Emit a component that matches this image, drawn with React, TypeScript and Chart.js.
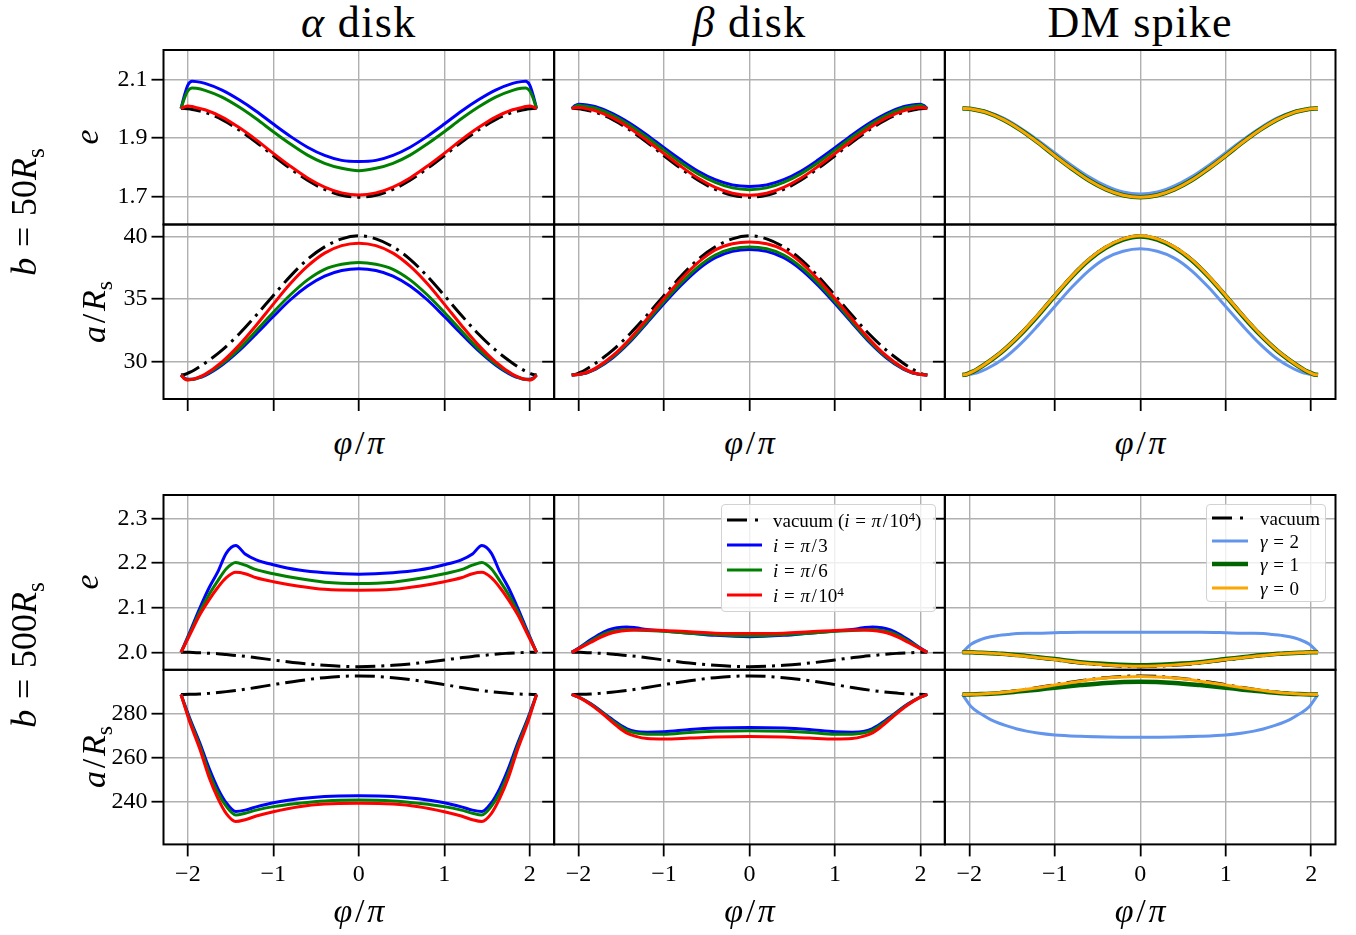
import React, { useEffect, useRef } from "react";
import { Chart, registerables } from "chart.js";

Chart.register(...registerables);

const SERIF = "'Liberation Serif', 'DejaVu Serif', serif";

// ---------- sample positions (φ/π) ----------
const PHI_B50 = [-2.08, -2.04, -2.0, -1.95, -1.9, -1.8, -1.6, -1.4, -1.2, -1.0, -0.8, -0.6, -0.4, -0.2, 0, 0.2, 0.4, 0.6, 0.8, 1.0, 1.2, 1.4, 1.6, 1.8, 1.9, 1.95, 2.0, 2.04, 2.08];
const PHI_B500 = [-2.08, -1.98, -1.86, -1.75, -1.65, -1.55, -1.44, -1.33, -1.2, -1.0, -0.7, -0.4, 0, 0.4, 0.7, 1.0, 1.2, 1.33, 1.44, 1.55, 1.65, 1.75, 1.86, 1.98, 2.08];

// ---------- b = 50 Rs : eccentricity ----------
const E50_VAC = [2.000, 2.000, 1.999, 1.997, 1.994, 1.987, 1.962, 1.927, 1.885, 1.839, 1.795, 1.755, 1.724, 1.704, 1.697, 1.704, 1.724, 1.755, 1.795, 1.839, 1.885, 1.927, 1.962, 1.987, 1.994, 1.997, 1.999, 2.000, 2.000];
const E50_ALPHA_PI3 = [2.000, 2.045, 2.080, 2.093, 2.092, 2.086, 2.063, 2.030, 1.991, 1.947, 1.905, 1.868, 1.840, 1.823, 1.819, 1.823, 1.840, 1.868, 1.905, 1.947, 1.991, 2.030, 2.063, 2.086, 2.092, 2.093, 2.080, 2.045, 2.000];
const E50_ALPHA_PI6 = [2.000, 2.035, 2.060, 2.070, 2.069, 2.062, 2.039, 2.005, 1.965, 1.921, 1.879, 1.841, 1.813, 1.796, 1.788, 1.796, 1.813, 1.841, 1.879, 1.921, 1.965, 2.005, 2.039, 2.062, 2.069, 2.070, 2.060, 2.035, 2.000];
const E50_ALPHA_PI1E4 = [2.000, 2.006, 2.009, 2.007, 2.003, 1.996, 1.971, 1.935, 1.893, 1.847, 1.803, 1.763, 1.732, 1.712, 1.705, 1.712, 1.732, 1.763, 1.803, 1.847, 1.893, 1.935, 1.971, 1.996, 2.003, 2.007, 2.009, 2.006, 2.000];
const E50_BETA_PI3 = [2.000, 2.010, 2.015, 2.014, 2.012, 2.006, 1.983, 1.950, 1.910, 1.866, 1.824, 1.786, 1.757, 1.739, 1.734, 1.739, 1.757, 1.786, 1.824, 1.866, 1.910, 1.950, 1.983, 2.006, 2.012, 2.014, 2.015, 2.010, 2.000];
const E50_BETA_PI6 = [2.000, 2.007, 2.011, 2.009, 2.007, 2.001, 1.977, 1.943, 1.902, 1.858, 1.815, 1.777, 1.748, 1.729, 1.723, 1.729, 1.748, 1.777, 1.815, 1.858, 1.902, 1.943, 1.977, 2.001, 2.007, 2.009, 2.011, 2.007, 2.000];
const E50_BETA_PI1E4 = [2.000, 2.003, 2.004, 2.002, 1.999, 1.992, 1.968, 1.933, 1.891, 1.846, 1.802, 1.762, 1.731, 1.711, 1.704, 1.711, 1.731, 1.762, 1.802, 1.846, 1.891, 1.933, 1.968, 1.992, 1.999, 2.002, 2.004, 2.003, 2.000];
const E50_SPIKE_G2 = [2.000, 2.000, 2.000, 1.998, 1.996, 1.990, 1.967, 1.933, 1.893, 1.849, 1.806, 1.767, 1.736, 1.715, 1.708, 1.715, 1.736, 1.767, 1.806, 1.849, 1.893, 1.933, 1.967, 1.990, 1.996, 1.998, 2.000, 2.000, 2.000];
const E50_SPIKE_G1 = [2.000, 2.000, 1.999, 1.997, 1.994, 1.987, 1.962, 1.927, 1.885, 1.839, 1.795, 1.755, 1.724, 1.704, 1.697, 1.704, 1.724, 1.755, 1.795, 1.839, 1.885, 1.927, 1.962, 1.987, 1.994, 1.997, 1.999, 2.000, 2.000];
const E50_SPIKE_G0 = [2.000, 2.000, 1.999, 1.997, 1.994, 1.987, 1.962, 1.927, 1.885, 1.839, 1.795, 1.755, 1.724, 1.704, 1.697, 1.704, 1.724, 1.755, 1.795, 1.839, 1.885, 1.927, 1.962, 1.987, 1.994, 1.997, 1.999, 2.000, 2.000];

// ---------- b = 50 Rs : semi-major axis a/Rs ----------
const A50_VAC = [28.90, 28.94, 29.05, 29.20, 29.40, 29.85, 30.90, 32.20, 33.70, 35.30, 36.85, 38.20, 39.20, 39.85, 40.10, 39.85, 39.20, 38.20, 36.85, 35.30, 33.70, 32.20, 30.90, 29.85, 29.40, 29.20, 29.05, 28.94, 28.90];
const A50_ALPHA_PI3 = [28.90, 28.65, 28.55, 28.55, 28.62, 28.85, 29.70, 30.85, 32.20, 33.60, 34.95, 36.05, 36.85, 37.30, 37.45, 37.30, 36.85, 36.05, 34.95, 33.60, 32.20, 30.85, 29.70, 28.85, 28.62, 28.55, 28.55, 28.65, 28.90];
const A50_ALPHA_PI6 = [28.90, 28.62, 28.52, 28.55, 28.62, 28.90, 29.80, 31.00, 32.45, 33.95, 35.35, 36.55, 37.40, 37.80, 37.95, 37.80, 37.40, 36.55, 35.35, 33.95, 32.45, 31.00, 29.80, 28.90, 28.62, 28.55, 28.52, 28.62, 28.90];
const A50_ALPHA_PI1E4 = [28.90, 28.60, 28.50, 28.55, 28.65, 28.95, 29.95, 31.30, 32.90, 34.60, 36.25, 37.65, 38.70, 39.30, 39.50, 39.30, 38.70, 37.65, 36.25, 34.60, 32.90, 31.30, 29.95, 28.95, 28.65, 28.55, 28.50, 28.60, 28.90];
const A50_BETA_PI3 = [28.90, 28.92, 28.94, 29.00, 29.08, 29.36, 30.28, 31.55, 33.08, 34.65, 36.12, 37.40, 38.33, 38.84, 39.00, 38.84, 38.33, 37.40, 36.12, 34.65, 33.08, 31.55, 30.28, 29.36, 29.08, 29.00, 28.94, 28.92, 28.90];
const A50_BETA_PI6 = [28.90, 28.92, 28.95, 29.02, 29.10, 29.40, 30.35, 31.65, 33.20, 34.80, 36.30, 37.60, 38.55, 39.05, 39.20, 39.05, 38.55, 37.60, 36.30, 34.80, 33.20, 31.65, 30.35, 29.40, 29.10, 29.02, 28.95, 28.92, 28.90];
const A50_BETA_PI1E4 = [28.90, 28.92, 28.95, 29.02, 29.12, 29.45, 30.45, 31.80, 33.40, 35.05, 36.60, 37.95, 38.95, 39.45, 39.60, 39.45, 38.95, 37.95, 36.60, 35.05, 33.40, 31.80, 30.45, 29.45, 29.12, 29.02, 28.95, 28.92, 28.90];
const A50_SPIKE_G2 = [28.90, 28.92, 28.95, 29.02, 29.10, 29.38, 30.20, 31.40, 32.85, 34.40, 35.95, 37.30, 38.30, 38.85, 39.05, 38.85, 38.30, 37.30, 35.95, 34.40, 32.85, 31.40, 30.20, 29.38, 29.10, 29.02, 28.95, 28.92, 28.90];
const A50_SPIKE_G1 = [28.90, 28.94, 29.05, 29.19, 29.39, 29.83, 30.87, 32.16, 33.65, 35.25, 36.80, 38.14, 39.14, 39.79, 40.04, 39.79, 39.14, 38.14, 36.80, 35.25, 33.65, 32.16, 30.87, 29.83, 29.39, 29.19, 29.05, 28.94, 28.90];
const A50_SPIKE_G0 = [28.90, 28.94, 29.05, 29.20, 29.40, 29.85, 30.90, 32.20, 33.70, 35.30, 36.85, 38.20, 39.20, 39.85, 40.10, 39.85, 39.20, 38.20, 36.85, 35.30, 33.70, 32.20, 30.90, 29.85, 29.40, 29.20, 29.05, 28.94, 28.90];

// ---------- b = 500 Rs : eccentricity ----------
const E500_VAC = [2.000, 2.000, 1.999, 1.998, 1.997, 1.995, 1.993, 1.991, 1.988, 1.983, 1.976, 1.971, 1.968, 1.971, 1.976, 1.983, 1.988, 1.991, 1.993, 1.995, 1.997, 1.998, 1.999, 2.000, 2.000];
const E500_ALPHA_PI3 = [2.000, 2.044, 2.099, 2.145, 2.180, 2.222, 2.239, 2.220, 2.207, 2.196, 2.184, 2.178, 2.175, 2.178, 2.184, 2.196, 2.207, 2.220, 2.239, 2.222, 2.180, 2.145, 2.099, 2.044, 2.000];
const E500_ALPHA_PI6 = [2.000, 2.041, 2.091, 2.130, 2.160, 2.187, 2.201, 2.195, 2.185, 2.176, 2.165, 2.157, 2.154, 2.157, 2.165, 2.176, 2.185, 2.195, 2.201, 2.187, 2.160, 2.130, 2.091, 2.041, 2.000];
const E500_ALPHA_PI1E4 = [2.000, 2.038, 2.084, 2.118, 2.145, 2.167, 2.179, 2.176, 2.167, 2.158, 2.148, 2.141, 2.139, 2.141, 2.148, 2.158, 2.167, 2.176, 2.179, 2.167, 2.145, 2.118, 2.084, 2.038, 2.000];
const E500_BETA_PI3 = [2.000, 2.012, 2.028, 2.041, 2.050, 2.055, 2.057, 2.055, 2.051, 2.048, 2.043, 2.038, 2.035, 2.038, 2.043, 2.048, 2.051, 2.055, 2.057, 2.055, 2.050, 2.041, 2.028, 2.012, 2.000];
const E500_BETA_PI6 = [2.000, 2.011, 2.025, 2.037, 2.045, 2.049, 2.051, 2.050, 2.049, 2.047, 2.043, 2.040, 2.037, 2.040, 2.043, 2.047, 2.049, 2.050, 2.051, 2.049, 2.045, 2.037, 2.025, 2.011, 2.000];
const E500_BETA_PI1E4 = [2.000, 2.010, 2.022, 2.033, 2.041, 2.046, 2.049, 2.050, 2.050, 2.049, 2.046, 2.043, 2.042, 2.043, 2.046, 2.049, 2.050, 2.050, 2.049, 2.046, 2.041, 2.033, 2.022, 2.010, 2.000];
const E500_SPIKE_G2 = [2.000, 2.018, 2.029, 2.035, 2.038, 2.040, 2.042, 2.043, 2.043, 2.044, 2.045, 2.045, 2.045, 2.045, 2.045, 2.044, 2.043, 2.043, 2.042, 2.040, 2.038, 2.035, 2.029, 2.018, 2.000];
const E500_SPIKE_G1 = [2.000, 2.000, 1.999, 1.998, 1.997, 1.996, 1.994, 1.992, 1.989, 1.985, 1.978, 1.974, 1.971, 1.974, 1.978, 1.985, 1.989, 1.992, 1.994, 1.996, 1.997, 1.998, 1.999, 2.000, 2.000];
const E500_SPIKE_G0 = [2.000, 2.000, 1.999, 1.998, 1.997, 1.995, 1.993, 1.991, 1.988, 1.984, 1.977, 1.972, 1.969, 1.972, 1.977, 1.984, 1.988, 1.991, 1.993, 1.995, 1.997, 1.998, 1.999, 2.000, 2.000];

// ---------- b = 500 Rs : semi-major axis a/Rs ----------
const A500_VAC = [289.0, 289.05, 289.2, 289.5, 289.9, 290.3, 290.8, 291.4, 292.2, 293.5, 295.3, 296.7, 297.5, 296.7, 295.3, 293.5, 292.2, 291.4, 290.8, 290.3, 289.9, 289.5, 289.2, 289.05, 289.0];
const A500_ALPHA_PI3 = [289.0, 278.3, 266.7, 255.0, 246.0, 239.3, 235.4, 236.0, 237.5, 239.4, 241.2, 242.3, 242.6, 242.3, 241.2, 239.4, 237.5, 236.0, 235.4, 239.3, 246.0, 255.0, 266.7, 278.3, 289.0];
const A500_ALPHA_PI6 = [289.0, 277.5, 265.4, 253.0, 244.0, 237.7, 233.8, 234.6, 236.0, 237.6, 239.1, 240.2, 240.6, 240.2, 239.1, 237.6, 236.0, 234.6, 233.8, 237.7, 244.0, 253.0, 265.4, 277.5, 289.0];
const A500_ALPHA_PI1E4 = [289.0, 276.6, 264.0, 250.8, 241.5, 234.4, 230.8, 231.6, 233.3, 235.3, 237.6, 238.8, 239.1, 238.8, 237.6, 235.3, 233.3, 231.6, 230.8, 234.4, 241.5, 250.8, 264.0, 276.6, 289.0];
const A500_BETA_PI3 = [289.0, 287.5, 284.8, 281.8, 278.8, 276.0, 273.4, 272.0, 271.7, 271.9, 272.9, 273.6, 273.9, 273.6, 272.9, 271.9, 271.7, 272.0, 273.4, 276.0, 278.8, 281.8, 284.8, 287.5, 289.0];
const A500_BETA_PI6 = [289.0, 287.4, 284.6, 281.5, 278.4, 275.4, 272.7, 271.3, 270.8, 270.8, 271.6, 272.1, 272.4, 272.1, 271.6, 270.8, 270.8, 271.3, 272.7, 275.4, 278.4, 281.5, 284.6, 287.4, 289.0];
const A500_BETA_PI1E4 = [289.0, 287.3, 284.4, 281.1, 277.8, 274.5, 271.4, 269.8, 268.8, 268.6, 269.0, 269.5, 269.7, 269.5, 269.0, 268.6, 268.8, 269.8, 271.4, 274.5, 277.8, 281.1, 284.4, 287.3, 289.0];
const A500_SPIKE_G2 = [289.0, 283.5, 280.0, 277.5, 275.8, 274.5, 273.2, 272.2, 271.3, 270.4, 269.8, 269.5, 269.4, 269.5, 269.8, 270.4, 271.3, 272.2, 273.2, 274.5, 275.8, 277.5, 280.0, 283.5, 289.0];
const A500_SPIKE_G1 = [289.0, 289.03, 289.16, 289.35, 289.6, 289.9, 290.3, 290.7, 291.2, 292.1, 293.3, 294.3, 294.8, 294.3, 293.3, 292.1, 291.2, 290.7, 290.3, 289.9, 289.6, 289.35, 289.16, 289.03, 289.0];
const A500_SPIKE_G0 = [289.0, 289.05, 289.2, 289.5, 289.8, 290.2, 290.8, 291.4, 292.1, 293.3, 295.1, 296.5, 297.2, 296.5, 295.1, 293.3, 292.1, 291.4, 290.8, 290.2, 289.8, 289.5, 289.2, 289.05, 289.0];

// ---------- axis ticks ----------
const X_TICKS = [-2, -1, 0, 1, 2];
const Y_TICKS_E50 = [1.7, 1.9, 2.1];
const Y_TICKS_A50 = [30, 35, 40];
const Y_TICKS_E500 = [2.0, 2.1, 2.2, 2.3];
const Y_TICKS_A500 = [240, 260, 280];

// ---------- styling ----------
const BLUE = "#0000ff";
const GREEN = "#008000";
const RED = "#ff0000";
const BLACK = "#000000";
const CORNFLOWER = "#6495ed";
const DARKGREEN = "#006400";
const ORANGE = "#ffa500";
const VAC_DASH = [20, 6, 3, 6];
const GRID = "#b0b0b0";

type Series = { y: number[]; color: string; width: number; dash?: number[]; order: number };

const diskSeries = (vac: number[], pi3: number[], pi6: number[], pi1e4: number[]): Series[] => [
  { y: vac, color: BLACK, width: 3, dash: VAC_DASH, order: 3 },
  { y: pi3, color: BLUE, width: 3, order: 2 },
  { y: pi6, color: GREEN, width: 3, order: 1 },
  { y: pi1e4, color: RED, width: 3, order: 0 },
];
const spikeSeries = (vac: number[], g2: number[], g1: number[], g0: number[]): Series[] => [
  { y: vac, color: BLACK, width: 3, dash: VAC_DASH, order: 3 },
  { y: g2, color: CORNFLOWER, width: 3, order: 2 },
  { y: g1, color: DARKGREEN, width: 4.5, order: 1 },
  { y: g0, color: ORANGE, width: 3, order: 0 },
];

type RowCfg = { phi: number[]; min: number; max: number; ticks: number[]; fmt: (v: number) => string };
const ROWS: RowCfg[] = [
  { phi: PHI_B50, min: 1.604, max: 2.2, ticks: Y_TICKS_E50, fmt: (v) => v.toFixed(1) },
  { phi: PHI_B50, min: 26.97, max: 41.0, ticks: Y_TICKS_A50, fmt: (v) => String(v) },
  { phi: PHI_B500, min: 1.961, max: 2.352, ticks: Y_TICKS_E500, fmt: (v) => v.toFixed(1) },
  { phi: PHI_B500, min: 220.3, max: 300.3, ticks: Y_TICKS_A500, fmt: (v) => String(v) },
];

const PANELS: { row: number; col: number; series: Series[] }[] = [
  { row: 0, col: 0, series: diskSeries(E50_VAC, E50_ALPHA_PI3, E50_ALPHA_PI6, E50_ALPHA_PI1E4) },
  { row: 0, col: 1, series: diskSeries(E50_VAC, E50_BETA_PI3, E50_BETA_PI6, E50_BETA_PI1E4) },
  { row: 0, col: 2, series: spikeSeries(E50_VAC, E50_SPIKE_G2, E50_SPIKE_G1, E50_SPIKE_G0) },
  { row: 1, col: 0, series: diskSeries(A50_VAC, A50_ALPHA_PI3, A50_ALPHA_PI6, A50_ALPHA_PI1E4) },
  { row: 1, col: 1, series: diskSeries(A50_VAC, A50_BETA_PI3, A50_BETA_PI6, A50_BETA_PI1E4) },
  { row: 1, col: 2, series: spikeSeries(A50_VAC, A50_SPIKE_G2, A50_SPIKE_G1, A50_SPIKE_G0) },
  { row: 2, col: 0, series: diskSeries(E500_VAC, E500_ALPHA_PI3, E500_ALPHA_PI6, E500_ALPHA_PI1E4) },
  { row: 2, col: 1, series: diskSeries(E500_VAC, E500_BETA_PI3, E500_BETA_PI6, E500_BETA_PI1E4) },
  { row: 2, col: 2, series: spikeSeries(E500_VAC, E500_SPIKE_G2, E500_SPIKE_G1, E500_SPIKE_G0) },
  { row: 3, col: 0, series: diskSeries(A500_VAC, A500_ALPHA_PI3, A500_ALPHA_PI6, A500_ALPHA_PI1E4) },
  { row: 3, col: 1, series: diskSeries(A500_VAC, A500_BETA_PI3, A500_BETA_PI6, A500_BETA_PI1E4) },
  { row: 3, col: 2, series: spikeSeries(A500_VAC, A500_SPIKE_G2, A500_SPIKE_G1, A500_SPIKE_G0) },
];

// ---------- grid geometry (page pixels) ----------
const COL_X = [163.5, 554.2, 944.9];
const PANEL_W = 390.6;
const ROW_Y = [50, 224.5, 495, 669.8];
const ROW_H = [174.5, 174.5, 174.8, 174.6];
const X_MIN = -2.285;
const X_MAX = 2.285;
const TICK_FONT = { family: SERIF, size: 24 };

function geometry(row: number, col: number) {
  const extL = col === 0 ? COL_X[0] : 16;
  const left = Math.floor(COL_X[col] - extL);
  const L = COL_X[col] - left;
  const top = Math.floor(ROW_Y[row]) - 3;
  const T = ROW_Y[row] - top;
  const extB = row === 3 ? 62 : row === 1 ? 16 : 3;
  const w = Math.ceil(COL_X[col] + PANEL_W + 3) - left;
  const h = Math.ceil(ROW_Y[row] + ROW_H[row] + extB) - top;
  const P = w - L - PANEL_W;
  const B = h - T - ROW_H[row];
  return { left, top, w, h, L, T, P, B };
}

// Axes frame drawn on all four sides, above the curves
const framePlugin = {
  id: "frame",
  afterDatasetsDraw(chart: any) {
    const { ctx, chartArea: a } = chart;
    ctx.save();
    ctx.strokeStyle = "#000";
    ctx.lineWidth = 2;
    ctx.strokeRect(a.left, a.top, a.right - a.left, a.bottom - a.top);
    ctx.restore();
  },
};

const fmtX = (v: number) => (v < 0 ? "\u2212" + Math.abs(v) : String(v));

function Panel({ row, col, series }: { row: number; col: number; series: Series[] }) {
  const ref = useRef<HTMLCanvasElement>(null);
  const g = geometry(row, col);
  useEffect(() => {
    const cfg = ROWS[row];
    const chart = new Chart(ref.current as HTMLCanvasElement, {
      type: "line",
      data: {
        datasets: series.map((s) => ({
          data: cfg.phi.map((x, i) => ({ x, y: s.y[i] })),
          borderColor: s.color,
          borderWidth: s.width,
          borderDash: s.dash ?? [],
          borderCapStyle: "butt",
          pointRadius: 0,
          fill: false,
          cubicInterpolationMode: "monotone",
          order: s.order,
        })),
      },
      options: {
        responsive: false,
        animation: false,
        devicePixelRatio: 1,
        events: [],
        layout: { padding: { top: g.T, right: g.P, left: 0, bottom: 0 }, autoPadding: false },
        plugins: { legend: { display: false }, tooltip: { enabled: false } },
        scales: {
          x: {
            type: "linear",
            position: "bottom",
            min: X_MIN,
            max: X_MAX,
            afterBuildTicks: (s: any) => {
              s.ticks = X_TICKS.map((v) => ({ value: v }));
            },
            afterFit: (s: any) => {
              s.height = g.B;
              s.paddingLeft = 0;
              s.paddingRight = 0;
              s.paddingTop = 0;
              s.paddingBottom = 0;
            },
            ticks: {
              display: row === 3,
              callback: (v: any) => fmtX(Number(v)),
              font: TICK_FONT,
              color: "#000",
              padding: 4,
              maxRotation: 0,
              minRotation: 0,
              autoSkip: false,
            },
            grid: {
              color: GRID,
              lineWidth: 1.4,
              drawTicks: row === 1 || row === 3,
              tickLength: 12,
              tickColor: "#000",
              tickWidth: 1.8,
            },
            border: { display: false },
          },
          y: {
            type: "linear",
            position: "left",
            min: cfg.min,
            max: cfg.max,
            afterBuildTicks: (s: any) => {
              s.ticks = cfg.ticks.map((v) => ({ value: v }));
            },
            afterFit: (s: any) => {
              s.width = g.L;
              s.paddingLeft = 0;
              s.paddingRight = 0;
              s.paddingTop = 0;
              s.paddingBottom = 0;
            },
            ticks: {
              display: col === 0,
              callback: (v: any) => cfg.fmt(Number(v)),
              font: TICK_FONT,
              color: "#000",
              padding: 4,
            },
            grid: {
              color: GRID,
              lineWidth: 1.4,
              drawTicks: true,
              tickLength: 12,
              tickColor: "#000",
              tickWidth: 1.8,
            },
            border: { display: false },
          },
        },
      } as any,
      plugins: [framePlugin],
    });
    return () => chart.destroy();
  }, []);
  return (
    <canvas
      ref={ref}
      width={g.w}
      height={g.h}
      style={{ position: "absolute", left: g.left, top: g.top, width: g.w, height: g.h }}
    />
  );
}

function Label({ x, y, size, rotate, spacing, children }: { x: number; y: number; size: number; rotate?: boolean; spacing?: string; children: React.ReactNode }) {
  return (
    <div
      style={{
        position: "absolute",
        left: x,
        top: y,
        transform: `translate(-50%, -50%)${rotate ? " rotate(-90deg)" : ""}`,
        fontSize: size,
        lineHeight: 1,
        fontFamily: SERIF,
        whiteSpace: "nowrap",
        letterSpacing: spacing,
        color: "#000",
      }}
    >
      {children}
    </div>
  );
}

const Sub = ({ children }: { children: React.ReactNode }) => (
  <span style={{ fontSize: "0.7em", position: "relative", top: "0.3em" }}>{children}</span>
);
const Sup = ({ children }: { children: React.ReactNode }) => (
  <span style={{ fontSize: "0.7em", position: "relative", top: "-0.45em" }}>{children}</span>
);
const Eq = () => <span style={{ margin: "0 0.3em" }}>=</span>;
const Slash = () => <span style={{ margin: "0 0.08em" }}>/</span>;
const I = ({ children }: { children: React.ReactNode }) => <i>{children}</i>;

type LegendEntry = { text: React.ReactNode; color: string; width: number; dash?: string };

function Legend({ box, rowsY, handleX, handleW, textX, entries }: {
  box: { left: number; top: number; width: number; height: number };
  rowsY: number[];
  handleX: number;
  handleW: number;
  textX: number;
  entries: LegendEntry[];
}) {
  return (
    <>
      <div
        style={{
          position: "absolute",
          left: box.left,
          top: box.top,
          width: box.width,
          height: box.height,
          boxSizing: "border-box",
          border: "1.5px solid #d2d2d2",
          borderRadius: 4,
          background: "rgba(255,255,255,0.8)",
        }}
      />
      {entries.map((e, i) => (
        <React.Fragment key={i}>
          <svg
            width={handleW}
            height={10}
            style={{ position: "absolute", left: handleX, top: rowsY[i] - 5 }}
          >
            <line x1={0} y1={5} x2={handleW} y2={5} stroke={e.color} strokeWidth={e.width} strokeDasharray={e.dash} />
          </svg>
          <div
            style={{
              position: "absolute",
              left: textX,
              top: rowsY[i],
              transform: "translateY(-50%)",
              fontSize: 19,
              lineHeight: 1,
              fontFamily: SERIF,
              whiteSpace: "nowrap",
              color: "#000",
            }}
          >
            {e.text}
          </div>
        </React.Fragment>
      ))}
    </>
  );
}

export default function App() {
  const colCenters = COL_X.map((x) => x + PANEL_W / 2);
  const rowCenters = ROW_Y.map((y, i) => y + ROW_H[i] / 2);
  const phiLabel = (
    <span>
      <I>φ</I>
      <Slash />
      <I>π</I>
    </span>
  );
  const aLabel = (
    <span>
      <I>a</I>
      <Slash />
      <I>R</I>
      <Sub>s</Sub>
    </span>
  );
  return (
    <div
      style={{
        position: "absolute",
        left: 0,
        top: 0,
        width: 1356,
        height: 935,
        background: "#ffffff",
        overflow: "hidden",
      }}
    >
      {PANELS.map((p) => (
        <Panel key={`${p.row}-${p.col}`} row={p.row} col={p.col} series={p.series} />
      ))}

      {/* column titles */}
      <Label x={colCenters[0]} y={23} size={44} spacing="0.03em">
        <I>α</I> disk
      </Label>
      <Label x={colCenters[1]} y={23} size={44} spacing="0.03em">
        <I>β</I> disk
      </Label>
      <Label x={colCenters[2]} y={23} size={44} spacing="0.03em">
        DM spike
      </Label>

      {/* row-group labels */}
      <Label x={24} y={212} size={36} rotate>
        <I>b</I>
        <Eq />
        50<I>R</I>
        <Sub>s</Sub>
      </Label>
      <Label x={24} y={655} size={36} rotate>
        <I>b</I>
        <Eq />
        500<I>R</I>
        <Sub>s</Sub>
      </Label>

      {/* y axis labels */}
      <Label x={87} y={rowCenters[0]} size={34} rotate>
        <I>e</I>
      </Label>
      <Label x={94} y={rowCenters[1]} size={34} rotate>
        {aLabel}
      </Label>
      <Label x={87} y={rowCenters[2]} size={34} rotate>
        <I>e</I>
      </Label>
      <Label x={94} y={rowCenters[3]} size={34} rotate>
        {aLabel}
      </Label>

      {/* x axis labels */}
      {colCenters.map((cx, i) => (
        <Label key={`xt${i}`} x={cx} y={443} size={34}>
          {phiLabel}
        </Label>
      ))}
      {colCenters.map((cx, i) => (
        <Label key={`xb${i}`} x={cx} y={911} size={34}>
          {phiLabel}
        </Label>
      ))}

      {/* legends */}
      <Legend
        box={{ left: 720.5, top: 504, width: 215, height: 108 }}
        rowsY={[519.5, 544.5, 569.5, 595]}
        handleX={726.5}
        handleW={35}
        textX={773}
        entries={[
          {
            text: (
              <span>
                vacuum (<I>i</I>
                <Eq />
                <I>π</I>
                <Slash />
                10<Sup>4</Sup>)
              </span>
            ),
            color: BLACK,
            width: 3,
            dash: "20 8 3 100",
          },
          { text: <span><I>i</I><Eq /><I>π</I><Slash />3</span>, color: BLUE, width: 3 },
          { text: <span><I>i</I><Eq /><I>π</I><Slash />6</span>, color: GREEN, width: 3 },
          {
            text: (
              <span>
                <I>i</I>
                <Eq />
                <I>π</I>
                <Slash />
                10<Sup>4</Sup>
              </span>
            ),
            color: RED,
            width: 3,
          },
        ]}
      />
      <Legend
        box={{ left: 1206, top: 504, width: 120, height: 98 }}
        rowsY={[517.5, 541, 564, 587.5]}
        handleX={1211.5}
        handleW={36.5}
        textX={1260}
        entries={[
          { text: <span>vacuum</span>, color: BLACK, width: 3, dash: "20 8 3 100" },
          { text: <span><I>γ</I><Eq />2</span>, color: CORNFLOWER, width: 3 },
          { text: <span><I>γ</I><Eq />1</span>, color: DARKGREEN, width: 4.5 },
          { text: <span><I>γ</I><Eq />0</span>, color: ORANGE, width: 3 },
        ]}
      />
    </div>
  );
}
